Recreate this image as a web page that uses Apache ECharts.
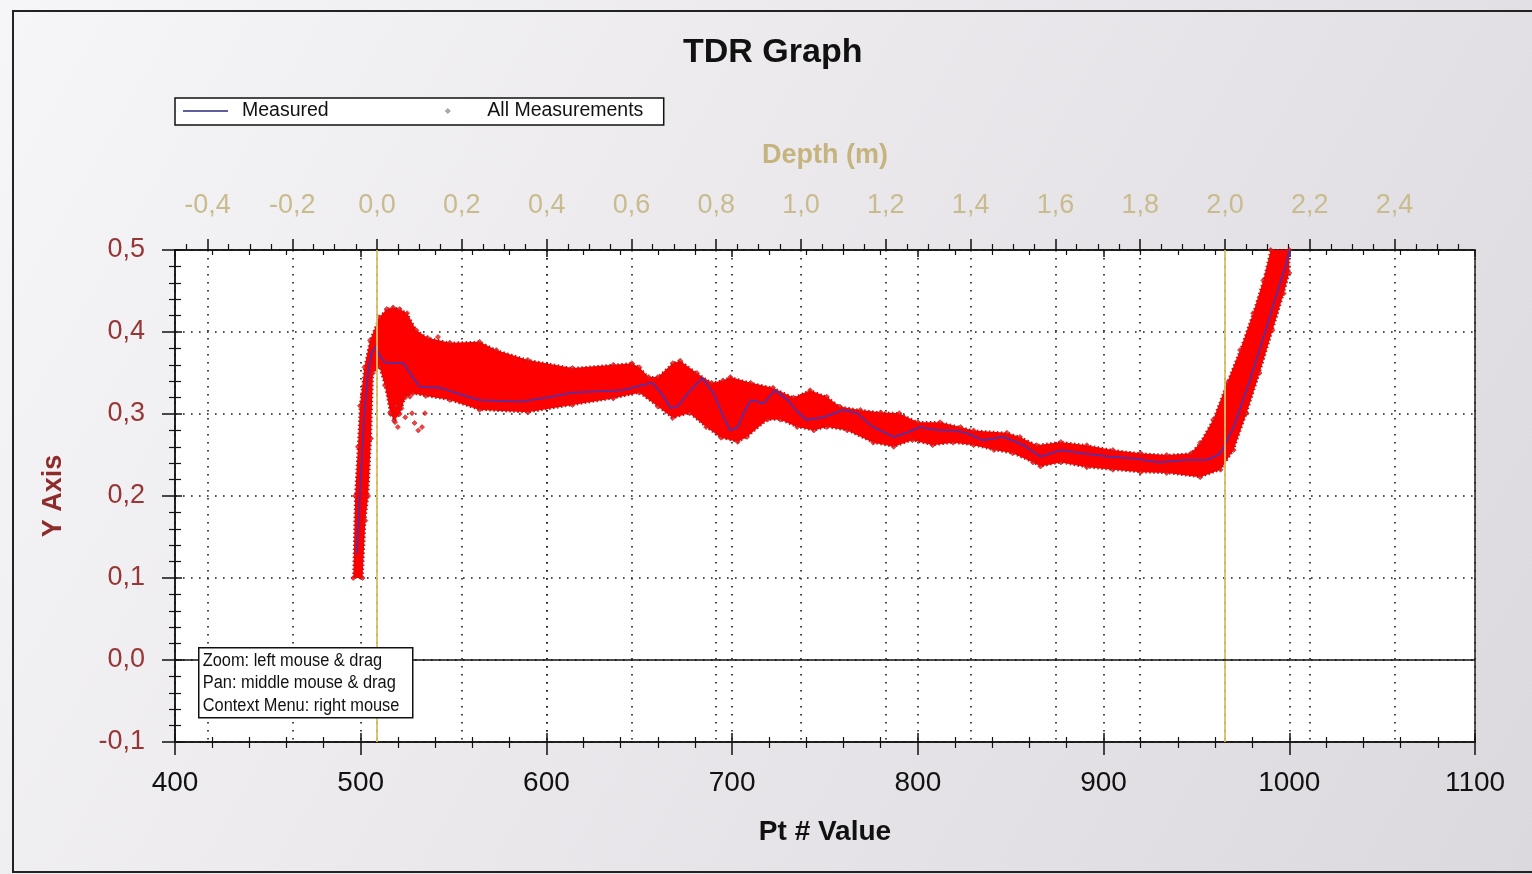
<!DOCTYPE html>
<html>
<head>
<meta charset="utf-8">
<script src="https://cdn.jsdelivr.net/npm/echarts@6/dist/echarts.min.js"></script>
<style>
html,body{margin:0;padding:0;background:#f2f2f2;}
#chart{width:1532px;height:874px;}
</style>
</head>
<body>
<div id="chart"></div>
<script>
// ---------- DATA ----------
// Measured curve (Pt #, value)
const MEASURED_PT = [498,500,502,504,506,508,510,513,518,523,528,532,543,555,564,586,600,614,641,651,657,662,667,671,676,684,690,695,699,703,706,710,717,723,730,735,740,749,760,767,776,787,794,801,812,819,826,835,846,857,866,877,889,903,916,930,945,956,963,970,977,984,991,999,1000];
const MEASURED_Y  = [0.13,0.22,0.30,0.35,0.375,0.382,0.372,0.363,0.362,0.362,0.345,0.333,0.332,0.323,0.317,0.315,0.32,0.326,0.329,0.335,0.338,0.325,0.307,0.31,0.325,0.344,0.325,0.298,0.28,0.284,0.30,0.317,0.313,0.329,0.317,0.303,0.293,0.296,0.305,0.301,0.284,0.272,0.277,0.284,0.28,0.28,0.277,0.268,0.272,0.262,0.248,0.256,0.252,0.248,0.246,0.241,0.244,0.244,0.252,0.284,0.329,0.378,0.43,0.488,0.50];

// All measurements: upper and lower envelope of the point cloud
const UPPER_PT = [496,497,498.5,499.6,502,505,510,514,517.5,521,525,530,536,548,564,573,590,614,636,646,650,655,660,668,672,681,689,695,699,710,722,733,742,751,758,769,780,790,800,812,823,830,848,855,864,877,891,905,920,934,947,952,959,966.5,973.5,980.5,986,990,1000];
const UPPER_Y  = [0.10,0.20,0.26,0.31,0.357,0.39,0.418,0.428,0.43,0.428,0.423,0.402,0.393,0.387,0.388,0.378,0.366,0.356,0.36,0.362,0.357,0.345,0.345,0.362,0.365,0.35,0.338,0.341,0.345,0.338,0.332,0.32,0.329,0.321,0.309,0.305,0.302,0.301,0.29,0.29,0.284,0.28,0.277,0.272,0.262,0.266,0.262,0.256,0.252,0.25,0.252,0.265,0.293,0.338,0.378,0.423,0.463,0.50,0.50];
const LOWER_PT = [501,502.5,504,505.5,506.6,510,513,516,518,521,524,528,535,548,564,590,614,636,650,660,668,677,686,694,703,708,719,726,735,744,751,762,776,787,797,808,819,830,841,851,862,866,877,891,905,920,934,952,963,970,977,984,991,997,1000];
const LOWER_Y  = [0.10,0.17,0.20,0.27,0.35,0.358,0.335,0.30,0.292,0.30,0.32,0.325,0.322,0.317,0.305,0.302,0.311,0.319,0.326,0.309,0.295,0.301,0.284,0.271,0.266,0.272,0.293,0.293,0.284,0.28,0.284,0.28,0.265,0.26,0.268,0.262,0.265,0.262,0.256,0.252,0.241,0.236,0.241,0.235,0.232,0.229,0.228,0.223,0.232,0.256,0.301,0.35,0.402,0.447,0.472];
// scattered single measurements outside the dense band
const OUTLIER_PT = [515.8,518.5,519,520,522,524,526.5,527.6,529,531,533,534.6,541.6];
const OUTLIER_Y  = [0.302,0.290,0.31,0.284,0.307,0.296,0.321,0.301,0.289,0.280,0.284,0.301,0.394];

// Depth calibration (Pt # at depth 0, Pt # per metre) and axis ticks
const DEPTH0_PT = 508.8;
const PT_PER_M = 228.3;
const DEPTH_TICKS = [-0.4,-0.2,0.0,0.2,0.4,0.6,0.8,1.0,1.2,1.4,1.6,1.8,2.0,2.2,2.4];
const DEPTH_MARKS = [0.0, 2.0];

// ---------- CHART ----------
const FONT = 'Liberation Sans, Arial, sans-serif';
const X_MIN = 400, X_MAX = 1100;
const DEPTH_MIN = (X_MIN - DEPTH0_PT) / PT_PER_M;
const DEPTH_MAX = (X_MAX - DEPTH0_PT) / PT_PER_M;
const DEPTH_MINOR = [];
for (const t of DEPTH_TICKS.concat([2.6])) {
  for (const k of [-0.15,-0.1,-0.05]) {
    const v = Math.round((t + k) * 100) / 100;
    if (v > DEPTH_MIN && v < DEPTH_MAX) DEPTH_MINOR.push(v);
  }
}
const comma = v => (Math.round(v * 10) / 10).toFixed(1).replace('.', ',');

const measured = MEASURED_PT.map((x, i) => [x, MEASURED_Y[i]]);
const upper = UPPER_PT.map((x, i) => [x, UPPER_Y[i]]);
const lower = LOWER_PT.map((x, i) => [x, LOWER_Y[i]]);
const bandPoly = upper.concat(lower.slice().reverse());
const edgePts = upper.concat(lower).concat(OUTLIER_PT.map((x, i) => [x, OUTLIER_Y[i]]));

const dotted = {show: true, lineStyle: {color: '#1a1a1a', width: 1.6, type: [1.6, 6.4]}};
const black = {color: '#111', width: 1.5};
const thin = {color: '#111', width: 1.2};
const noLine = {show: false, onZero: false};

const chart = echarts.init(document.getElementById('chart'));
chart.setOption({
  animation: false,
  backgroundColor: {type: 'linear', x: 0, y: 0, x2: 1, y2: 1,
    colorStops: [{offset: 0, color: '#f6f5f7'}, {offset: 1, color: '#dcd9de'}]},
  textStyle: {fontFamily: FONT},
  title: {
    text: 'TDR Graph', left: 683, top: 36, padding: 0,
    textStyle: {fontSize: 34, fontWeight: 'bold', color: '#111', fontFamily: FONT}
  },
  legend: [
    { left: 175, top: 98, padding: [3, 335, 4, 8],
      itemWidth: 45, itemHeight: 8,
      backgroundColor: '#ffffff', borderColor: '#111', borderWidth: 1.5, borderRadius: 0,
      textStyle: {fontSize: 19.5, color: '#111', fontFamily: FONT, padding: [0, 0, 0, 9]},
      data: [{name: 'Measured', icon: 'path://M0,0L45,0L45,1.4L0,1.4Z', itemStyle: {color: '#2a2a80'}}] },
    { left: 445, top: 101, padding: 0,
      itemWidth: 5, itemHeight: 5,
      textStyle: {fontSize: 19.5, color: '#111', fontFamily: FONT, padding: [0, 0, 0, 32]},
      data: [{name: 'All Measurements', icon: 'diamond', itemStyle: {color: '#b8a8a8', borderColor: '#777', borderWidth: 0.6}}] }
  ],
  grid: {left: 175, right: 57, top: 250, bottom: 132, show: true, backgroundColor: '#ffffff', borderColor: '#222', borderWidth: 1.5},
  xAxis: [
    { type: 'value', position: 'bottom', min: X_MIN, max: X_MAX, interval: 100,
      axisLine: {onZero: false, lineStyle: black}, axisTick: {length: 13, lineStyle: black},
      minorTick: {show: true, splitNumber: 5, length: 6, lineStyle: thin},
      axisLabel: {fontSize: 28, color: '#111', margin: 27, fontFamily: FONT, formatter: v => String(v)},
      splitLine: dotted,
      name: 'Pt # Value', nameLocation: 'middle', nameGap: 76,
      nameTextStyle: {fontSize: 28, fontWeight: 'bold', color: '#111', fontFamily: FONT} },
    { type: 'value', position: 'bottom', min: X_MIN, max: X_MAX, interval: 100,
      axisLine: noLine, axisTick: {inside: true, length: 9, lineStyle: black},
      minorTick: {show: true, splitNumber: 5, length: 5, lineStyle: thin},
      axisLabel: {show: false}, splitLine: {show: false} },
    { type: 'value', position: 'top', min: DEPTH_MIN, max: DEPTH_MAX,
      axisLine: {onZero: false, lineStyle: black},
      axisTick: {length: 11, customValues: DEPTH_TICKS, lineStyle: black},
      axisLabel: {customValues: DEPTH_TICKS, formatter: comma, fontSize: 27, color: '#c8bc8e', margin: 31, fontFamily: FONT},
      splitLine: dotted,
      name: 'Depth (m)', nameLocation: 'middle', nameGap: 81,
      nameTextStyle: {fontSize: 27, fontWeight: 'bold', color: '#c6b47e', fontFamily: FONT} },
    { type: 'value', position: 'top', min: DEPTH_MIN, max: DEPTH_MAX,
      axisLine: noLine,
      axisTick: {length: 6, customValues: DEPTH_MINOR, lineStyle: thin},
      axisLabel: {show: false}, splitLine: {show: false} },
    { type: 'value', position: 'top', min: X_MIN, max: X_MAX, interval: 100,
      axisLine: noLine, axisTick: {inside: true, length: 7, lineStyle: black},
      minorTick: {show: true, splitNumber: 5, length: 5, lineStyle: thin},
      axisLabel: {show: false}, splitLine: {show: false} }
  ],
  yAxis: [
    { type: 'value', position: 'left', min: -0.1, max: 0.5, interval: 0.1,
      axisLine: {onZero: false, lineStyle: black}, axisTick: {length: 13, lineStyle: black},
      minorTick: {show: true, splitNumber: 5, length: 6, lineStyle: thin},
      axisLabel: {formatter: comma, fontSize: 27, color: '#963636', margin: 30, fontFamily: FONT},
      splitLine: dotted,
      name: 'Y Axis', nameLocation: 'middle', nameGap: 108,
      nameTextStyle: {fontSize: 27, fontWeight: 'bold', color: '#8e2c2c', fontFamily: FONT} },
    { type: 'value', position: 'left', min: -0.1, max: 0.5, interval: 0.1,
      axisLine: noLine, axisTick: {inside: true, length: 7, lineStyle: black},
      minorTick: {show: true, splitNumber: 5, length: 6, lineStyle: thin},
      axisLabel: {show: false}, splitLine: {show: false} }
  ],
  series: [
    { name: 'depthMarks', type: 'line', xAxisIndex: 2, yAxisIndex: 0, data: [], z: 1,
      markLine: {silent: true, symbol: 'none', label: {show: false},
        lineStyle: {color: '#d9bf62', width: 1.8, type: 'solid'},
        data: DEPTH_MARKS.map(d => ({xAxis: d}))} },
    { name: 'All Measurements', type: 'custom', xAxisIndex: 0, yAxisIndex: 0, z: 2,
      data: bandPoly,
      renderItem: (params, api) => {
        if (params.dataIndex !== 0) return null;
        const pts = bandPoly.map(p => api.coord(p));
        return {type: 'polygon', shape: {points: pts},
          style: {fill: '#ff0000', stroke: '#b81818', lineWidth: 2.2, lineDash: [1.5, 2.5]}};
      } },
    { name: 'All Measurements', type: 'scatter', xAxisIndex: 0, yAxisIndex: 0, z: 3,
      symbol: 'diamond', symbolSize: 5,
      itemStyle: {color: '#ff1010', borderColor: '#a52020', borderWidth: 0.8},
      data: edgePts },
    { name: 'Measured', type: 'line', xAxisIndex: 0, yAxisIndex: 0, z: 4,
      showSymbol: false, symbol: 'none',
      lineStyle: {color: '#5230a8', width: 1.8},
      data: measured,
      markLine: {silent: true, symbol: 'none', label: {show: false},
        lineStyle: {color: '#111', width: 1.5, type: 'solid'},
        data: [{yAxis: 0}]} }
  ],
  graphic: [
    { type: 'rect', left: 12, top: 10, silent: true, z: 50,
      shape: {x: 0, y: 0, width: 1540, height: 861},
      style: {fill: 'transparent', stroke: '#222', lineWidth: 2} },
    { type: 'group', left: 198, top: 647, z: 100, zlevel: 1, children: [
      { type: 'rect', z: 100, shape: {x: 0, y: 0, width: 214, height: 70},
        style: {fill: '#ffffff', stroke: '#111', lineWidth: 1.5} },
      { type: 'text', z: 101, x: 4, y: 2, scaleX: 0.91,
        style: {text: 'Zoom: left mouse & drag\nPan: middle mouse & drag\nContext Menu: right mouse',
          font: '18px "Liberation Sans", Arial, sans-serif',
          lineHeight: 22.5, fill: '#111'} }
    ]}
  ]
});
</script>
</body>
</html>
